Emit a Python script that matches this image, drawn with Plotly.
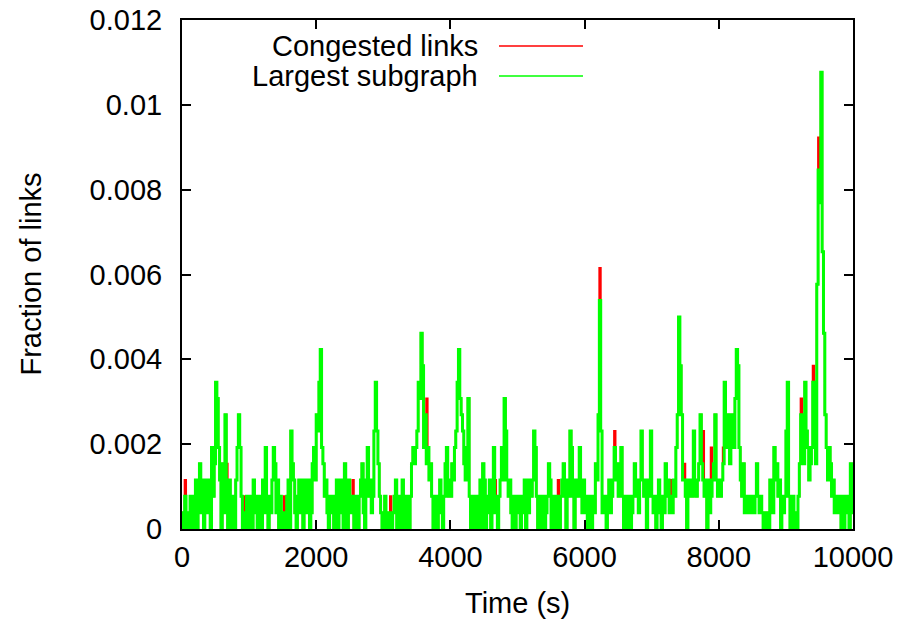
import plotly.graph_objects as go

# Sampling: one link-count reading every 20 s over a 10000 s run
SAMPLE_STEP_S = 20
TOTAL_LINKS = 2600

# Number of links in the largest congested subgraph, one list per 1000 s block
largest_0k = [1, 0, 2, 0, 1, 0, 2, 1, 0, 2, 3, 0, 3, 4, 1, 3, 0, 3, 1, 2,
              3, 0, 5, 2, 4, 9, 8, 5, 3, 0, 4, 1, 7, 3, 0, 3, 1, 0, 2, 0,
              3, 5, 7, 5, 2, 0, 1, 0, 2, 0]
largest_1k = [1, 2, 0, 3, 1, 2, 0, 1, 2, 0, 3, 1, 5, 2, 0, 2, 1, 3, 5, 4,
              1, 3, 0, 2, 0, 1, 1, 0, 2, 3, 0, 6, 4, 3, 1, 0, 2, 3, 1, 3,
              0, 2, 3, 1, 3, 0, 1, 4, 5, 3]
largest_2k = [7, 6, 9, 11, 5, 4, 2, 3, 1, 0, 2, 1, 2, 0, 1, 3, 0, 1, 3, 2,
              0, 4, 2, 0, 3, 2, 1, 2, 0, 1, 2, 0, 2, 3, 4, 1, 0, 3, 5, 2,
              3, 1, 2, 6, 9, 6, 4, 2, 1, 0]
largest_3k = [1, 2, 0, 1, 0, 1, 0, 1, 2, 3, 0, 2, 1, 0, 3, 1, 0, 2, 1, 0,
              2, 4, 5, 4, 5, 6, 9, 8, 12, 10, 5, 7, 4, 5, 3, 4, 2, 0, 2, 1,
              0, 2, 3, 1, 0, 2, 4, 5, 2, 3]
largest_4k = [2, 4, 3, 5, 6, 9, 11, 8, 7, 6, 4, 3, 5, 8, 2, 0, 2, 0, 1, 2,
              0, 1, 3, 0, 4, 3, 0, 1, 2, 3, 0, 1, 5, 2, 1, 0, 2, 3, 5, 3,
              8, 6, 3, 2, 3, 1, 0, 2, 0, 2]
largest_5k = [1, 2, 0, 1, 2, 3, 0, 3, 1, 3, 2, 3, 6, 5, 2, 0, 2, 0, 1, 2,
              0, 1, 2, 4, 3, 0, 2, 1, 0, 2, 2, 0, 2, 3, 4, 2, 0, 3, 2, 6,
              5, 2, 0, 3, 2, 3, 5, 2, 1, 3]
largest_6k = [2, 1, 0, 2, 1, 0, 2, 1, 4, 3, 7, 14, 6, 1, 2, 1, 0, 2, 3, 1,
              2, 3, 5, 3, 4, 2, 3, 5, 2, 0, 2, 0, 1, 2, 0, 1, 2, 4, 2, 3,
              1, 3, 6, 3, 2, 3, 0, 2, 3, 6]
largest_7k = [2, 1, 2, 0, 1, 3, 2, 0, 2, 1, 4, 2, 3, 1, 2, 1, 3, 2, 5, 7,
              13, 10, 7, 3, 3, 2, 0, 3, 2, 3, 2, 6, 3, 2, 3, 4, 7, 4, 3, 2,
              3, 0, 3, 1, 2, 3, 4, 7, 3, 2]
largest_8k = [3, 2, 3, 4, 9, 6, 5, 7, 4, 6, 7, 5, 8, 11, 10, 5, 3, 2, 4, 1,
              2, 1, 2, 1, 1, 2, 1, 2, 4, 2, 1, 2, 1, 0, 1, 0, 1, 0, 3, 2,
              1, 5, 3, 4, 2, 3, 0, 2, 1, 2]
largest_9k = [6, 9, 2, 0, 1, 2, 0, 1, 0, 2, 4, 7, 5, 4, 9, 6, 5, 3, 4, 5,
              9, 8, 4, 15, 22, 20, 28, 17, 12, 7, 5, 3, 5, 4, 2, 3, 1, 1, 2, 1,
              2, 0, 2, 0, 2, 1, 2, 0, 4, 1, 2]

# Samples (time in s -> link count) where the congested-link count
# exceeds the largest-subgraph count
congested_excess = {40: 3, 660: 4, 920: 2, 1520: 2, 2540: 3, 3100: 2,
                    3640: 8, 4660: 3, 5600: 3, 6220: 16, 6300: 2, 6440: 6,
                    7280: 3, 7480: 4, 7760: 6, 7880: 5, 8060: 5, 8480: 2,
                    9220: 8, 9400: 10, 9480: 24}

largest_counts = (largest_0k + largest_1k + largest_2k + largest_3k + largest_4k
                  + largest_5k + largest_6k + largest_7k + largest_8k + largest_9k)
times = [i * SAMPLE_STEP_S for i in range(len(largest_counts))]
congested_counts = [congested_excess.get(t, c) for t, c in zip(times, largest_counts)]

largest_frac = [c / TOTAL_LINKS for c in largest_counts]
congested_frac = [c / TOTAL_LINKS for c in congested_counts]

FONT = "Liberation Sans, Arial, Helvetica, sans-serif"
FS = 29

fig = go.Figure()
fig.add_trace(go.Scatter(x=times, y=congested_frac, mode="lines", line_shape="hv",
                         line=dict(color="#ff0000", width=2), name="Congested links",
                         showlegend=False))
fig.add_trace(go.Scatter(x=times, y=largest_frac, mode="lines", line_shape="hv",
                         line=dict(color="#00ff00", width=3), name="Largest subgraph",
                         showlegend=False))

axis_common = dict(showgrid=False, zeroline=False, showline=True, linecolor="black",
                   linewidth=2, mirror="ticks", ticks="inside", ticklen=9,
                   tickwidth=1.5, tickcolor="black", automargin=False,
                   tickfont=dict(family=FONT, size=FS, color="black"))

fig.update_xaxes(range=[0, 10000], tickvals=[0, 2000, 4000, 6000, 8000, 10000],
                 tickformat="d", ticklabelstandoff=1, **axis_common)
fig.update_yaxes(range=[0, 0.012], tickvals=[0, 0.002, 0.004, 0.006, 0.008, 0.01, 0.012],
                 ticktext=["0", "0.002", "0.004", "0.006", "0.008", "0.01", "0.012"],
                 ticklabelstandoff=12, **axis_common)

# Key drawn inside the plot: label on the left, line sample on the right
legend_rows = [("Congested links", "#ff0000", 0.949), ("Largest subgraph", "#00ff00", 0.890)]
annotations = []
shapes = []
for label, color, y in legend_rows:
    annotations.append(dict(text=label, x=0.444, y=y, xref="paper", yref="paper",
                            xanchor="right", yanchor="middle", showarrow=False,
                            font=dict(family=FONT, size=FS, color="black")))
    shapes.append(dict(type="line", xref="paper", yref="paper", x0=0.4724, x1=0.5976,
                       y0=y, y1=y, line=dict(color=color, width=1.5)))

annotations.append(dict(text="Fraction of links", x=-0.2265, y=0.5, xref="paper",
                        yref="paper", textangle=-90, showarrow=False,
                        xanchor="center", yanchor="middle",
                        font=dict(family=FONT, size=FS, color="black")))
annotations.append(dict(text="Time (s)", x=0.5, y=-0.145, xref="paper", yref="paper",
                        showarrow=False, xanchor="center", yanchor="middle",
                        font=dict(family=FONT, size=FS, color="black")))

fig.update_layout(width=904, height=626, margin=dict(l=182, r=51, t=20, b=97),
                  plot_bgcolor="white", paper_bgcolor="white",
                  annotations=annotations, shapes=shapes, showlegend=False)

fig.write_html("out.html")
